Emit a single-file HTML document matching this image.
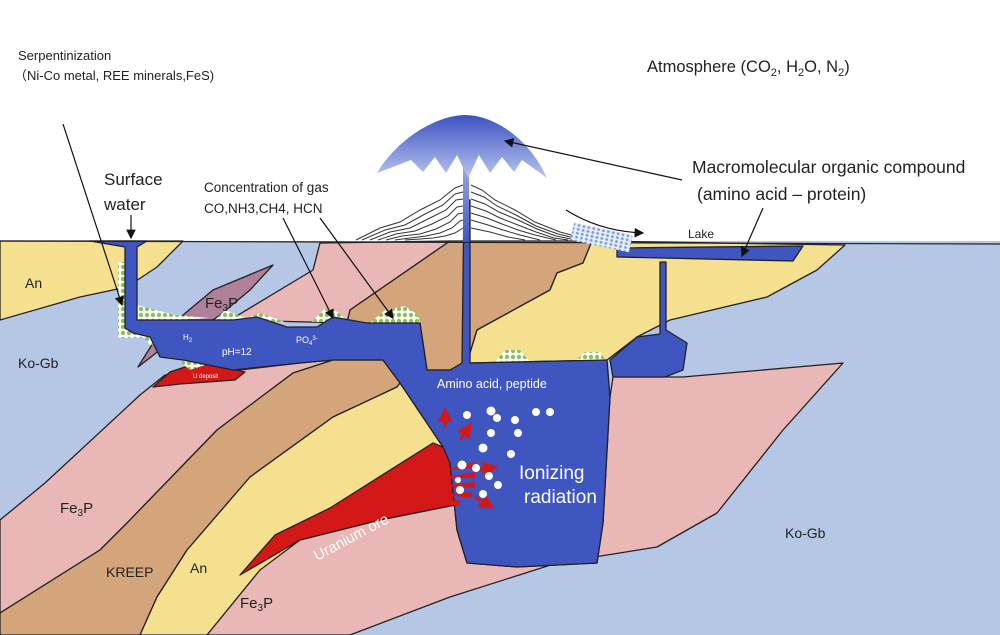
<!DOCTYPE html>
<html><head><meta charset="utf-8"><style>
html,body{margin:0;padding:0;background:#fff}
svg{display:block}
text{font-family:"Liberation Sans",sans-serif}
</style></head><body>
<svg width="1000" height="635" viewBox="0 0 1000 635" xmlns="http://www.w3.org/2000/svg">
<defs>
<pattern id="grn" width="6" height="6" patternUnits="userSpaceOnUse">
<rect width="6" height="6" fill="#fff"/><circle cx="3" cy="3" r="2.2" fill="#8fbf5a"/></pattern>
<pattern id="blu" width="5" height="4" patternUnits="userSpaceOnUse">
<rect width="5" height="4" fill="#e6eef8"/><circle cx="2.5" cy="2" r="1.4" fill="#7e9bd8"/></pattern>
<linearGradient id="mg" x1="0" y1="0" x2="0" y2="1"><stop offset="0" stop-color="#3b52c2"/><stop offset="1" stop-color="#b8c6ee"/></linearGradient>
<linearGradient id="sg" x1="0" y1="0" x2="0" y2="1"><stop offset="0" stop-color="#9aaae6"/><stop offset="1" stop-color="#3f55c0"/></linearGradient>
<marker id="ar" markerWidth="8" markerHeight="8" refX="7" refY="4" orient="auto"><path d="M0,0 L8,4 L0,8 z" fill="#111"/></marker>
<marker id="rr" markerWidth="5" markerHeight="5" refX="4" refY="2.5" orient="auto"><path d="M0,0 L5,2.5 L0,5 z" fill="#d41818"/></marker>
</defs>
<rect width="1000" height="635" fill="#fff"/>
<g stroke="#222" stroke-width="1.3" stroke-linejoin="round">
<rect x="0" y="241" width="1000" height="394" fill="#b6c7e6" stroke="none"/>
<path d="M0,241 L183,241 L157,267 L127,287 L80,297 L0,320 Z" fill="#f4e08e"/>
<path d="M230,320 L313,270 L320,243 L450,241 L350,310 L347,323 Z" fill="#e8b7b6"/>
<path d="M0,520 L45,483 L140,395 L165,375 L240,370 L300,363 L333,360 L293,373 L217,430 L127,523 L100,550 L0,613 Z" fill="#e8b7b6"/>
<path d="M0,613 L100,550 L127,523 L217,430 L293,373 L333,360 L383,360 L400,383 L397,387 L333,417 L250,477 L187,550 L157,597 L140,635 L0,635 Z" fill="#d4a47b"/>
<path d="M350,310 L450,241 L592,241 L583,263 L557,273 L550,290 L477,330 L467,363 L450,370 L427,370 L420,323 L347,323 Z" fill="#d4a47b"/>
<path d="M397,387 L400,383 L443,447 L260,570 L207,635 L140,635 L157,597 L187,550 L250,477 L333,417 Z" fill="#f4e08e"/>
<path d="M592,241 L845,245 L817,270 L767,297 L670,320 L637,337 L607,360 L467,363 L477,330 L550,290 L557,273 L583,263 Z" fill="#f4e08e"/>
<path d="M613,377 L683,377 L843,363 L783,430 L717,513 L657,547 L557,563 L450,597 L350,635 L207,635 L260,570 L300,540 L380,520 L455,505 L443,447 L450,463 L457,530 L467,563 L517,567 L597,563 L603,523 L610,397 Z" fill="#e8b7b6"/>
<path d="M240,575 L275,535 L330,508 L433,443 L450,450 L455,505 L380,520 L300,540 Z" fill="#d41818"/>
<path d="M177,320 L213,290 L273,265 L250,290 L220,315 L213,320 Z" fill="#b07f98"/>
<path d="M138,367 L153,343 L165,335 L190,335 L160,350 Z" fill="#b07f98"/>
<path d="M153,387 L170,372 L200,362 L245,372 L235,380 L180,384 Z" fill="#d41818"/>
<path d="M118,262 L125,262 L125,330 L155,330 L160,345 L150,345 L145,338 L118,338 Z" fill="url(#grn)" stroke="none"/>
<path d="M137,305 L175,315 L210,318 L137,322 Z" fill="url(#grn)" stroke="none"/>
<path d="M215,320 L225,310 L245,318 L260,313 L285,322 Z" fill="url(#grn)" stroke="none"/>
<path d="M312,322 L325,308 L338,312 L348,322 Z" fill="url(#grn)" stroke="none"/>
<path d="M370,323 L385,310 L405,306 L418,315 L420,323 Z" fill="url(#grn)" stroke="none"/>
<path d="M180,362 L195,355 L205,365 L190,370 Z" fill="url(#grn)" stroke="none"/>
<path d="M495,362 L505,350 L520,350 L530,362 Z" fill="url(#grn)" stroke="none"/>
<path d="M575,362 L585,352 L600,352 L607,362 Z" fill="url(#grn)" stroke="none"/>
<path d="M90,241 L147,241 L137,247 L137,320 L177,320 L213,320 L233,320 L257,317 L287,327 L317,327 L333,317 L367,323 L420,323 L427,370 L450,370 L462,363 L464,200 L470,200 L470,363 L607,360 L610,397 L603,523 L597,563 L517,567 L467,563 L457,530 L450,463 L443,447 L400,383 L383,360 L333,360 L300,363 L233,370 L183,360 L160,357 L150,337 L133,333 L125,328 L125,247 Z" fill="#3f55c0"/>
<path d="M613,377 L610,360 L637,337 L660,334 L660,262 L666,262 L666,330 L687,343 L683,370 L665,377 Z" fill="#3f55c0"/>
<path d="M617,248 L803,246 L793,261 L617,257 Z" fill="#3f55c0"/>
</g>
<line x1="0" y1="241" x2="1000" y2="244" stroke="#222" stroke-width="1.2"/>
<g fill="none" stroke="#333" stroke-width="1">
<path d="M356,240 L380,228 L400,222 L420,210 L440,200 L455,188 L463,185"/>
<path d="M362,240 L385,230 L405,225 L425,214 L443,205 L455,194 L463,192"/>
<path d="M370,240 L390,232 L410,228 L428,219 L446,210 L456,200 L463,199"/>
<path d="M378,240 L396,234 L415,231 L432,224 L448,216 L457,207 L463,206"/>
<path d="M386,240 L402,236 L420,234 L436,229 L450,222 L458,214 L463,213"/>
<path d="M395,240 L410,238 L426,236 L440,233 L452,228 L460,221 L463,220"/>
<path d="M405,240 L420,239 L433,238 L445,236 L455,233 L463,228"/>
<path d="M471,185 L482,190 L495,200 L515,210 L535,222 L560,232 L590,240"/>
<path d="M471,192 L484,197 L497,206 L516,215 L536,226 L558,234 L583,240"/>
<path d="M471,199 L485,204 L499,212 L518,220 L537,229 L556,236 L576,240"/>
<path d="M471,206 L486,211 L500,218 L518,225 L536,232 L554,238 L568,240"/>
<path d="M471,213 L487,218 L502,224 L518,230 L535,235 L556,240"/>
<path d="M471,220 L488,225 L503,230 L520,235 L540,240"/>
<path d="M471,228 L490,232 L508,237 L525,240"/>
</g>
<rect x="572" y="228" width="60" height="18" fill="url(#blu)" transform="rotate(12 600 235)"/>
<rect x="463" y="165" width="6" height="77" fill="url(#sg)"/>
<path d="M377,173 C400,135 440,115 465,115 C495,115 530,140 547,178 L522,160 L514,172 L502,157 L490,173 L479,155 L468,178 L457,155 L446,173 L435,157 L423,172 L411,160 Z" fill="url(#mg)"/>
<g stroke="#111" stroke-width="1.2" fill="none" marker-end="url(#ar)">
<line x1="63" y1="124" x2="122" y2="305"/>
<line x1="131" y1="215" x2="131" y2="238"/>
<line x1="283" y1="218" x2="333" y2="318"/>
<line x1="320" y1="218" x2="393" y2="318"/>
<line x1="682" y1="180" x2="505" y2="141"/>
<line x1="763" y1="208" x2="742" y2="256"/>
<path d="M566,210 C590,225 615,232 643,233"/>
</g>
<g fill="#d41818">
<path d="M445,470 L475,462 L475,468 Z"/><path d="M442,478 L475,472 L475,478 Z"/><path d="M440,486 L475,482 L475,488 Z"/><path d="M438,494 L472,492 L472,498 Z"/><path d="M437,502 L460,500 L460,506 Z"/>
</g>
<g stroke="#d41818" stroke-width="3" marker-end="url(#rr)">
<line x1="445" y1="428" x2="445" y2="410"/>
<line x1="460" y1="440" x2="470" y2="425"/>
<line x1="478" y1="470" x2="495" y2="467"/>
<line x1="475" y1="497" x2="492" y2="507"/>
</g>
<g fill="#fff">
<circle cx="491" cy="411" r="4.5"/><circle cx="467" cy="415" r="4"/><circle cx="497" cy="418" r="4"/><circle cx="515" cy="420" r="4"/><circle cx="536" cy="412" r="4"/><circle cx="550" cy="412" r="4"/><circle cx="491" cy="433" r="4"/><circle cx="518" cy="433" r="4"/><circle cx="483" cy="448" r="4.5"/><circle cx="511" cy="454" r="4"/><circle cx="462" cy="465" r="4.5"/><circle cx="476" cy="468" r="4"/><circle cx="489" cy="476" r="4"/><circle cx="498" cy="485" r="4"/><circle cx="460" cy="490" r="4"/><circle cx="483" cy="494" r="4"/><circle cx="458" cy="480" r="3"/>
</g>
<g fill="#222">
<text x="18" y="60" font-size="13">Serpentinization</text>
<text x="14" y="80" font-size="13">（Ni-Co metal, REE minerals,FeS)</text>
<text x="647" y="72" font-size="16.5">Atmosphere (CO<tspan font-size="11" dy="4">2</tspan><tspan dy="-4">, H</tspan><tspan font-size="11" dy="4">2</tspan><tspan dy="-4">O, N</tspan><tspan font-size="11" dy="4">2</tspan><tspan dy="-4">)</tspan></text>
<text x="104" y="185" font-size="17">Surface</text>
<text x="104" y="210" font-size="17">water</text>
<text x="204" y="192" font-size="13.5">Concentration of gas</text>
<text x="204" y="213" font-size="13.5">CO,NH3,CH4, HCN</text>
<text x="692" y="173" font-size="17.5">Macromolecular organic compound</text>
<text x="697" y="200" font-size="17.5">(amino acid – protein)</text>
<text x="688" y="238" font-size="12">Lake</text>
<text x="25" y="288" font-size="14">An</text>
<text x="205" y="308" font-size="15">Fe<tspan font-size="10" dy="3">3</tspan><tspan dy="-3">P</tspan></text>
<text x="18" y="368" font-size="14">Ko-Gb</text>
<text x="60" y="513" font-size="15">Fe<tspan font-size="10" dy="3">3</tspan><tspan dy="-3">P</tspan></text>
<text x="106" y="577" font-size="14">KREEP</text>
<text x="190" y="573" font-size="14">An</text>
<text x="240" y="608" font-size="15">Fe<tspan font-size="10" dy="3">3</tspan><tspan dy="-3">P</tspan></text>
<text x="785" y="538" font-size="14">Ko-Gb</text>
</g>
<g fill="#fff">
<text x="183" y="340" font-size="8">H<tspan font-size="6" dy="2">2</tspan></text>
<text x="222" y="355" font-size="10">pH=12</text>
<text x="296" y="343" font-size="9">PO<tspan font-size="6" dy="2">4</tspan><tspan font-size="6" dy="-5">3-</tspan></text>
<text x="193" y="378" font-size="6">U deposit</text>
<text x="437" y="388" font-size="12.5">Amino acid, peptide</text>
<text x="519" y="479" font-size="19">Ionizing</text>
<text x="524" y="503" font-size="19">radiation</text>
<text x="0" y="0" font-size="15" transform="translate(317,561) rotate(-28)">Uranium ore</text>
</g>
</svg>
</body></html>
